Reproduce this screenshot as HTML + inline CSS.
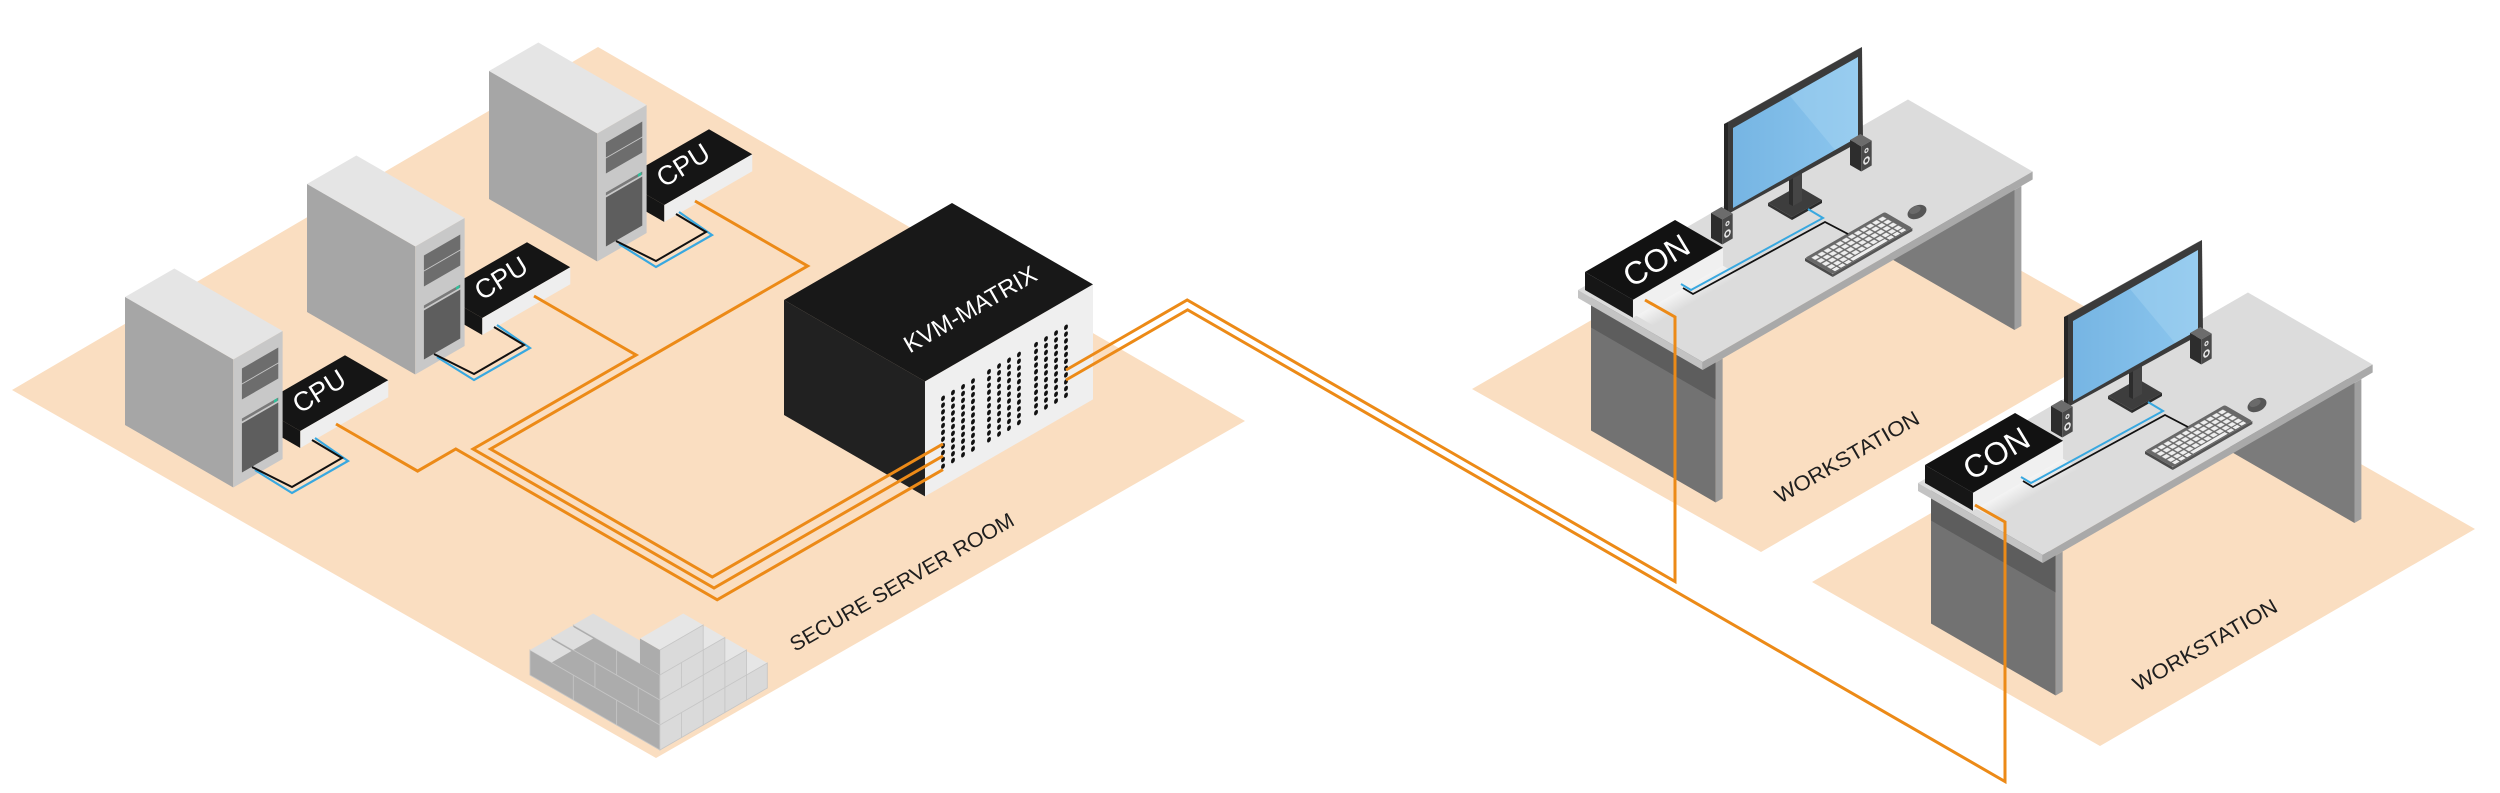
<!DOCTYPE html>
<html>
<head>
<meta charset="utf-8">
<style>
html,body{margin:0;padding:0;background:#ffffff;}
svg{display:block;}
</style>
</head>
<body>
<svg xmlns="http://www.w3.org/2000/svg" width="2500" height="793" viewBox="0 0 2500 793" font-family="'Liberation Sans', Arial, sans-serif">
<defs>
  <pattern id="keys" x="3.2" y="2.6" width="7" height="6" patternUnits="userSpaceOnUse">
    <rect x="0.8" y="0.8" width="5.4" height="4.4" fill="#efefef"/>
  </pattern>
  <linearGradient id="scr" x1="0" y1="0" x2="1" y2="0">
    <stop offset="0" stop-color="#76b5e3"/>
    <stop offset="1" stop-color="#8cc6ee"/>
  </linearGradient>
  <linearGradient id="refl" x1="0" y1="0" x2="0" y2="1">
    <stop offset="0" stop-color="#f7f7f7"/>
    <stop offset="1" stop-color="#dcdcdc"/>
  </linearGradient>
</defs>

<!-- ===== FLOORS ===== -->
<polygon points="12,390 598,47 1245,421 656,758" fill="#FADEC1"/>
<polygon points="1472,389 1847,172.5 2136,335.5 1761,552" fill="#FADEC1"/>
<polygon points="1812,582 2187,365 2475,529 2100,746" fill="#FADEC1"/>

<!-- ===== BRICK WALL ===== -->
<g>
  <g transform="matrix(0.866,0.5,0,1,530,675)" fill="#acacac" stroke="#c4c4c4" stroke-width="1">
    <rect x="0" y="-25" width="150" height="25"/>
    <rect x="25" y="-50" width="125" height="25"/>
    <rect x="50" y="-75" width="100" height="25"/>
    <path d="M50,-25V0M100,-25V0M75,-50V-25M125,-50V-25M100,-75V-50" fill="none"/>
  </g>
  <g transform="matrix(0.866,-0.5,0.866,0.5,530,650)"><rect width="23" height="25" fill="#dedede"/></g>
  <g transform="matrix(0.866,-0.5,0.866,0.5,530,625)"><rect y="25" width="23" height="25" fill="#dedede"/></g>
  <g transform="matrix(0.866,-0.5,0.866,0.5,530,600)"><rect y="50" width="23" height="100" fill="#dedede"/></g>
  <g transform="matrix(0.866,-0.5,0.866,0.5,530,650)"><rect x="100" y="127" width="24" height="23" fill="#e6e6e6"/></g>
  <g transform="matrix(0.866,-0.5,0,1,659.9,750)"><rect x="100" y="-25" width="24" height="25" fill="#d9d9d9" stroke="#c6c6c6" stroke-width="1"/></g>
  <g transform="matrix(0.866,-0.5,0.866,0.5,530,625)"><rect x="75" y="127" width="25" height="23" fill="#e6e6e6"/></g>
  <g transform="matrix(0.866,-0.5,0,1,659.9,750)"><rect x="75" y="-50" width="25" height="50" fill="#d9d9d9" stroke="#c6c6c6" stroke-width="1"/><path d="M75,-25H100" stroke="#c6c6c6"/></g>
  <g transform="matrix(0.866,-0.5,0.866,0.5,530,600)"><rect x="50" y="127" width="25" height="23" fill="#e6e6e6"/></g>
  <g transform="matrix(0.866,-0.5,0,1,659.9,750)"><rect x="50" y="-75" width="25" height="75" fill="#d9d9d9" stroke="#c6c6c6" stroke-width="1"/><path d="M50,-25H75M50,-50H75" stroke="#c6c6c6"/></g>
  <g transform="matrix(0.866,-0.5,0.866,0.5,530,575)"><rect x="0" y="127" width="50" height="23" fill="#e6e6e6"/></g>
  <g transform="matrix(0.866,-0.5,0,1,659.9,750)"><rect x="0" y="-100" width="50" height="100" fill="#dadada" stroke="#c6c6c6" stroke-width="1"/><path d="M0,-25H50M0,-50H50M0,-75H50M25,-25V0M25,-75V-50" stroke="#c6c6c6" fill="none"/></g>
  <g transform="matrix(0.866,0.5,0,1,530,675)"><rect x="127" y="-100" width="23" height="25" fill="#acacac"/></g>
</g>

<!-- ===== SERVERS (back to front) ===== -->
<!-- server 3 -->
<g transform="translate(489,199)">
  <g transform="matrix(0.866,-0.5,0.866,0.5,132,-19)"><rect width="101.6" height="50" fill="#151515"/></g>
  <g transform="matrix(0.866,0.5,0,1,132,-2)"><rect y="-17" width="50" height="17" fill="#151515"/></g>
  <g transform="matrix(0.866,-0.5,0,1,175.3,23)"><rect y="-17" width="101.6" height="17" fill="#eeeeee"/></g>
  <text transform="translate(194,-34) rotate(-32)" x="0" y="9.5" font-size="27" fill="#ffffff" text-anchor="middle">CPU</text>
  <g transform="matrix(0.866,-0.5,0.866,0.5,0,-128)"><rect width="57" height="125" fill="#e5e5e5"/></g>
  <g transform="matrix(0.866,0.5,0,1,0,0)"><rect y="-128" width="125" height="128" fill="#a6a6a6"/></g>
  <g transform="matrix(0.866,-0.5,0,1,108.25,62.5)">
    <rect y="-128" width="57" height="128" fill="#c8c8c8"/>
    <rect x="10" y="-114" width="42" height="15" fill="#6d6d6d"/>
    <rect x="10" y="-98" width="42" height="15" fill="#6d6d6d"/>
    <rect x="10" y="-64" width="42" height="3" fill="#7a7a7a"/>
    <rect x="47" y="-64" width="4" height="3" fill="#2fbf9a"/>
    <rect x="10" y="-59" width="42" height="49" fill="#5e5e5e"/>
  </g>
  <polyline points="130,45 167,68 223,36 190,13" fill="none" stroke="#38a8e0" stroke-width="2.2"/>
  <polyline points="127,42 167,62 217,33 187,15" fill="none" stroke="#111" stroke-width="2"/>
</g>
<!-- server 2 -->
<g transform="translate(307,312)">
  <g transform="matrix(0.866,-0.5,0.866,0.5,132,-19)"><rect width="101.6" height="50" fill="#151515"/></g>
  <g transform="matrix(0.866,0.5,0,1,132,-2)"><rect y="-17" width="50" height="17" fill="#151515"/></g>
  <g transform="matrix(0.866,-0.5,0,1,175.3,23)"><rect y="-17" width="101.6" height="17" fill="#eeeeee"/></g>
  <text transform="translate(194,-34) rotate(-32)" x="0" y="9.5" font-size="27" fill="#ffffff" text-anchor="middle">CPU</text>
  <g transform="matrix(0.866,-0.5,0.866,0.5,0,-128)"><rect width="57" height="125" fill="#e5e5e5"/></g>
  <g transform="matrix(0.866,0.5,0,1,0,0)"><rect y="-128" width="125" height="128" fill="#a6a6a6"/></g>
  <g transform="matrix(0.866,-0.5,0,1,108.25,62.5)">
    <rect y="-128" width="57" height="128" fill="#c8c8c8"/>
    <rect x="10" y="-114" width="42" height="15" fill="#6d6d6d"/>
    <rect x="10" y="-98" width="42" height="15" fill="#6d6d6d"/>
    <rect x="10" y="-64" width="42" height="3" fill="#7a7a7a"/>
    <rect x="47" y="-64" width="4" height="3" fill="#2fbf9a"/>
    <rect x="10" y="-59" width="42" height="49" fill="#5e5e5e"/>
  </g>
  <polyline points="130,45 167,68 223,36 190,13" fill="none" stroke="#38a8e0" stroke-width="2.2"/>
  <polyline points="127,42 167,62 217,33 187,15" fill="none" stroke="#111" stroke-width="2"/>
</g>
<!-- server 1 -->
<g transform="translate(125,425)">
  <g transform="matrix(0.866,-0.5,0.866,0.5,132,-19)"><rect width="101.6" height="50" fill="#151515"/></g>
  <g transform="matrix(0.866,0.5,0,1,132,-2)"><rect y="-17" width="50" height="17" fill="#151515"/></g>
  <g transform="matrix(0.866,-0.5,0,1,175.3,23)"><rect y="-17" width="101.6" height="17" fill="#eeeeee"/></g>
  <text transform="translate(194,-34) rotate(-32)" x="0" y="9.5" font-size="27" fill="#ffffff" text-anchor="middle">CPU</text>
  <g transform="matrix(0.866,-0.5,0.866,0.5,0,-128)"><rect width="57" height="125" fill="#e5e5e5"/></g>
  <g transform="matrix(0.866,0.5,0,1,0,0)"><rect y="-128" width="125" height="128" fill="#a6a6a6"/></g>
  <g transform="matrix(0.866,-0.5,0,1,108.25,62.5)">
    <rect y="-128" width="57" height="128" fill="#c8c8c8"/>
    <rect x="10" y="-114" width="42" height="15" fill="#6d6d6d"/>
    <rect x="10" y="-98" width="42" height="15" fill="#6d6d6d"/>
    <rect x="10" y="-64" width="42" height="3" fill="#7a7a7a"/>
    <rect x="47" y="-64" width="4" height="3" fill="#2fbf9a"/>
    <rect x="10" y="-59" width="42" height="49" fill="#5e5e5e"/>
  </g>
  <polyline points="130,45 167,68 223,36 190,13" fill="none" stroke="#38a8e0" stroke-width="2.2"/>
  <polyline points="127,42 167,62 217,33 187,15" fill="none" stroke="#111" stroke-width="2"/>
</g>

<!-- ===== KVM MATRIX ===== -->
<g>
  <g transform="matrix(0.866,0.5,0,1,784,415)"><rect y="-115" width="162.8" height="115" fill="#212121"/></g>
  <g transform="matrix(0.866,-0.5,0,1,925,496.4)">
    <rect y="-115" width="194" height="115" fill="#efefef"/>
    <g stroke="#111" stroke-width="4.4" stroke-linecap="round" stroke-dasharray="0.6 6.2">
      <line x1="20.8" y1="-88" x2="20.8" y2="-19"/>
      <line x1="32.3" y1="-88" x2="32.3" y2="-19"/>
      <line x1="43.9" y1="-88" x2="43.9" y2="-19"/>
      <line x1="55.4" y1="-88" x2="55.4" y2="-19"/>
      <line x1="73.9" y1="-88" x2="73.9" y2="-19"/>
      <line x1="85.5" y1="-88" x2="85.5" y2="-19"/>
      <line x1="97" y1="-88" x2="97" y2="-19"/>
      <line x1="108.5" y1="-88" x2="108.5" y2="-19"/>
      <line x1="128.2" y1="-88" x2="128.2" y2="-19"/>
      <line x1="139.7" y1="-88" x2="139.7" y2="-19"/>
      <line x1="151.3" y1="-88" x2="151.3" y2="-19"/>
      <line x1="162.8" y1="-88" x2="162.8" y2="-19"/>
    </g>
  </g>
  <g transform="matrix(0.866,-0.5,0.866,0.5,784,300)"><rect width="194" height="162.8" fill="#181818"/></g>
  <text transform="translate(970,309) rotate(-30)" x="0" y="8.5" font-size="24" fill="#ffffff" text-anchor="middle">KVM-MATRIX</text>
</g>

<!-- ===== DESK 1 ===== -->
<g>
  <g transform="matrix(0.866,0.5,0,1,1591,430.5)"><rect y="-140" width="144" height="140" fill="#727272"/><rect y="-140" width="144" height="37" fill="#5d5d5d"/></g>
  <g transform="matrix(0.866,0.5,0,1,1889.8,258)"><rect y="-140" width="144" height="140" fill="#7b7b7b"/></g>
  <g transform="matrix(0.866,-0.5,0,1,1702.7,510)"><rect x="15" y="-140" width="8" height="140" fill="#9b9b9b"/><rect x="360" y="-140" width="8" height="140" fill="#a0a0a0"/></g>
  <g transform="matrix(0.866,-0.5,0.866,0.5,1578,290)"><rect width="381" height="144" fill="#dcdcdc"/><rect x="8" y="57" width="100" height="22" fill="url(#refl)"/></g>
  <g transform="matrix(0.866,0.5,0,1,1578,438)"><rect y="-148" width="144" height="8" fill="#c3c3c3"/></g>
  <g transform="matrix(0.866,-0.5,0,1,1702.7,510)"><rect y="-148" width="381" height="8" fill="#a9a9a9"/></g>
  <!-- CON -->
  <g transform="matrix(0.866,0.5,0,1,1585,290)"><rect y="-18" width="55.4" height="18" fill="#161616"/></g>
  <g transform="matrix(0.866,-0.5,0,1,1633,317.7)"><rect y="-18" width="104" height="18" fill="#f0f0f0"/></g>
  <g transform="matrix(0.866,-0.5,0.866,0.5,1585,272)"><rect width="104" height="55.4" fill="#121212"/></g>
  <text transform="translate(1656,260) rotate(-31)" x="0" y="11.5" font-size="32" fill="#ffffff" text-anchor="middle">CON</text>
  <!-- monitor -->
  <polygon points="1768,203 1798,186 1822,200 1792,217" fill="#3d3d3d"/>
  <polygon points="1792,217 1822,200 1822,203 1792,220" fill="#2a2a2a"/>
  <polygon points="1768,203 1792,217 1792,220 1768,206" fill="#333"/>
  <polygon points="1789,176 1793,178 1793,206 1789,204" fill="#2c2c2c"/>
  <polygon points="1793,178 1802,173 1802,201 1793,206" fill="#454545"/>
  <polygon points="1724,124 1858,49 1862,47 1728,122" fill="#555"/>
  <polygon points="1724,124 1728,122 1728,214 1724,212" fill="#262626"/>
  <polygon points="1728,122 1862,47 1863,140 1728,214" fill="#3b3b3b"/>
  <polygon points="1733,128 1858,57 1858,137 1733,208" fill="url(#scr)"/>
  <polygon points="1790,96 1858,57 1858,137 1835,150" fill="#a6d4f2" opacity="0.45"/>
  <!-- speakers -->
  <g transform="matrix(0.866,-0.5,0.866,0.5,1711,213)"><rect width="12" height="13" fill="#6c6c6c"/></g>
  <g transform="matrix(0.866,0.5,0,1,1711,238)"><rect y="-25" width="13" height="25" fill="#2d2d2d"/></g>
  <g transform="matrix(0.866,-0.5,0,1,1722.3,244.5)"><rect y="-25" width="12" height="25" fill="#4a4a4a"/><circle cx="6" cy="-18" r="2.4" fill="#e8e8e8"/><circle cx="6" cy="-18" r="1.1" fill="#444"/><circle cx="6" cy="-8" r="3.8" fill="#e8e8e8"/><circle cx="6" cy="-8" r="2" fill="#444"/></g>
  <g transform="matrix(0.866,-0.5,0.866,0.5,1850,140)"><rect width="12" height="13" fill="#6c6c6c"/></g>
  <g transform="matrix(0.866,0.5,0,1,1850,165)"><rect y="-25" width="13" height="25" fill="#2d2d2d"/></g>
  <g transform="matrix(0.866,-0.5,0,1,1861.3,171.5)"><rect y="-25" width="12" height="25" fill="#4a4a4a"/><circle cx="6" cy="-18" r="2.4" fill="#e8e8e8"/><circle cx="6" cy="-18" r="1.1" fill="#444"/><circle cx="6" cy="-8" r="3.8" fill="#e8e8e8"/><circle cx="6" cy="-8" r="2" fill="#444"/></g>
  <!-- keyboard -->
  <g transform="matrix(0.866,0.5,0,1,1805,261)"><rect y="-3" width="32" height="3" fill="#4a4a4a"/></g>
  <g transform="matrix(0.866,-0.5,0,1,1832.7,277)"><rect y="-3" width="92" height="3" fill="#555"/></g>
  <g transform="matrix(0.866,-0.5,0.866,0.5,1805,258)">
    <rect width="92" height="32" rx="2" fill="#686868"/>
    <rect x="3.2" y="2.6" width="84" height="24" fill="url(#keys)"/>
    <rect x="4" y="27" width="5.4" height="3.6" fill="#efefef"/><rect x="11" y="27" width="5.4" height="3.6" fill="#efefef"/><rect x="18" y="27" width="5.4" height="3.6" fill="#efefef"/>
    <rect x="25" y="27" width="40" height="3.6" fill="#efefef"/>
    <rect x="67" y="27" width="5.4" height="3.6" fill="#efefef"/><rect x="74" y="27" width="5.4" height="3.6" fill="#efefef"/><rect x="81" y="27" width="5.4" height="3.6" fill="#efefef"/>
  </g>
  <ellipse cx="1917" cy="212" rx="10" ry="6.5" fill="#565656" transform="rotate(-25 1917 212)"/>
  <ellipse cx="1915" cy="210" rx="6" ry="3.5" fill="#6a6a6a" transform="rotate(-25 1915 210)"/>
  <!-- cables -->
  <polyline points="1681,284 1691,290 1823,218 1808,209" fill="none" stroke="#38a8e0" stroke-width="2"/>
  <polyline points="1683,288 1693,294 1825,222 1848,234" fill="none" stroke="#111" stroke-width="1.8"/>
</g>

<!-- ===== DESK 2 ===== -->
<g transform="translate(340,193)">
  <g transform="matrix(0.866,0.5,0,1,1591,430.5)"><rect y="-140" width="144" height="140" fill="#727272"/><rect y="-140" width="144" height="37" fill="#5d5d5d"/></g>
  <g transform="matrix(0.866,0.5,0,1,1889.8,258)"><rect y="-140" width="144" height="140" fill="#7b7b7b"/></g>
  <g transform="matrix(0.866,-0.5,0,1,1702.7,510)"><rect x="15" y="-140" width="8" height="140" fill="#9b9b9b"/><rect x="360" y="-140" width="8" height="140" fill="#a0a0a0"/></g>
  <g transform="matrix(0.866,-0.5,0.866,0.5,1578,290)"><rect width="381" height="144" fill="#dcdcdc"/><rect x="8" y="57" width="100" height="22" fill="url(#refl)"/></g>
  <g transform="matrix(0.866,0.5,0,1,1578,438)"><rect y="-148" width="144" height="8" fill="#c3c3c3"/></g>
  <g transform="matrix(0.866,-0.5,0,1,1702.7,510)"><rect y="-148" width="381" height="8" fill="#a9a9a9"/></g>
  <g transform="matrix(0.866,0.5,0,1,1585,290)"><rect y="-18" width="55.4" height="18" fill="#161616"/></g>
  <g transform="matrix(0.866,-0.5,0,1,1633,317.7)"><rect y="-18" width="104" height="18" fill="#f0f0f0"/></g>
  <g transform="matrix(0.866,-0.5,0.866,0.5,1585,272)"><rect width="104" height="55.4" fill="#121212"/></g>
  <text transform="translate(1656,260) rotate(-31)" x="0" y="11.5" font-size="32" fill="#ffffff" text-anchor="middle">CON</text>
  <polygon points="1768,203 1798,186 1822,200 1792,217" fill="#3d3d3d"/>
  <polygon points="1792,217 1822,200 1822,203 1792,220" fill="#2a2a2a"/>
  <polygon points="1768,203 1792,217 1792,220 1768,206" fill="#333"/>
  <polygon points="1789,176 1793,178 1793,206 1789,204" fill="#2c2c2c"/>
  <polygon points="1793,178 1802,173 1802,201 1793,206" fill="#454545"/>
  <polygon points="1724,124 1858,49 1862,47 1728,122" fill="#555"/>
  <polygon points="1724,124 1728,122 1728,214 1724,212" fill="#262626"/>
  <polygon points="1728,122 1862,47 1863,140 1728,214" fill="#3b3b3b"/>
  <polygon points="1733,128 1858,57 1858,137 1733,208" fill="url(#scr)"/>
  <polygon points="1790,96 1858,57 1858,137 1835,150" fill="#a6d4f2" opacity="0.45"/>
  <g transform="matrix(0.866,-0.5,0.866,0.5,1711,213)"><rect width="12" height="13" fill="#6c6c6c"/></g>
  <g transform="matrix(0.866,0.5,0,1,1711,238)"><rect y="-25" width="13" height="25" fill="#2d2d2d"/></g>
  <g transform="matrix(0.866,-0.5,0,1,1722.3,244.5)"><rect y="-25" width="12" height="25" fill="#4a4a4a"/><circle cx="6" cy="-18" r="2.4" fill="#e8e8e8"/><circle cx="6" cy="-18" r="1.1" fill="#444"/><circle cx="6" cy="-8" r="3.8" fill="#e8e8e8"/><circle cx="6" cy="-8" r="2" fill="#444"/></g>
  <g transform="matrix(0.866,-0.5,0.866,0.5,1850,140)"><rect width="12" height="13" fill="#6c6c6c"/></g>
  <g transform="matrix(0.866,0.5,0,1,1850,165)"><rect y="-25" width="13" height="25" fill="#2d2d2d"/></g>
  <g transform="matrix(0.866,-0.5,0,1,1861.3,171.5)"><rect y="-25" width="12" height="25" fill="#4a4a4a"/><circle cx="6" cy="-18" r="2.4" fill="#e8e8e8"/><circle cx="6" cy="-18" r="1.1" fill="#444"/><circle cx="6" cy="-8" r="3.8" fill="#e8e8e8"/><circle cx="6" cy="-8" r="2" fill="#444"/></g>
  <g transform="matrix(0.866,0.5,0,1,1805,261)"><rect y="-3" width="32" height="3" fill="#4a4a4a"/></g>
  <g transform="matrix(0.866,-0.5,0,1,1832.7,277)"><rect y="-3" width="92" height="3" fill="#555"/></g>
  <g transform="matrix(0.866,-0.5,0.866,0.5,1805,258)">
    <rect width="92" height="32" rx="2" fill="#686868"/>
    <rect x="3.2" y="2.6" width="84" height="24" fill="url(#keys)"/>
    <rect x="4" y="27" width="5.4" height="3.6" fill="#efefef"/><rect x="11" y="27" width="5.4" height="3.6" fill="#efefef"/><rect x="18" y="27" width="5.4" height="3.6" fill="#efefef"/>
    <rect x="25" y="27" width="40" height="3.6" fill="#efefef"/>
    <rect x="67" y="27" width="5.4" height="3.6" fill="#efefef"/><rect x="74" y="27" width="5.4" height="3.6" fill="#efefef"/><rect x="81" y="27" width="5.4" height="3.6" fill="#efefef"/>
  </g>
  <ellipse cx="1917" cy="212" rx="10" ry="6.5" fill="#565656" transform="rotate(-25 1917 212)"/>
  <ellipse cx="1915" cy="210" rx="6" ry="3.5" fill="#6a6a6a" transform="rotate(-25 1915 210)"/>
  <polyline points="1681,284 1691,290 1823,218 1808,209" fill="none" stroke="#38a8e0" stroke-width="2"/>
  <polyline points="1683,288 1693,294 1825,222 1848,234" fill="none" stroke="#111" stroke-width="1.8"/>
</g>

<!-- ===== LABELS ===== -->
<g fill="#1e1e1e">
  <text transform="translate(795,652) rotate(-30)" font-size="21" textLength="255" lengthAdjust="spacingAndGlyphs">SECURE SERVER ROOM</text>
  <text transform="translate(1780,504) rotate(-30)" font-size="21" textLength="163" lengthAdjust="spacingAndGlyphs">WORKSTATION</text>
  <text transform="translate(2138,692) rotate(-30)" font-size="21" textLength="163" lengthAdjust="spacingAndGlyphs">WORKSTATION</text>
</g>

<!-- ===== ORANGE LINES ===== -->
<g fill="none" stroke="#EC8A17" stroke-width="3" stroke-linejoin="miter">
  <polyline points="336,424 417.6,471.1 455.8,449 717.2,599.8 943,469.6"/>
  <polyline points="534,296 636.1,355 473.1,449 714,588 943,455.9"/>
  <polyline points="695,201 807.6,266 490.5,449 712.3,577 943,443.9"/>
  <polyline points="1066,370 1187.2,300 1675,581.5 1675,317 1645,300"/>
  <polyline points="1066,380 1187.6,309.8 2005,781.5 2005,522 1975,505"/>
</g>
</svg>
</body>
</html>
